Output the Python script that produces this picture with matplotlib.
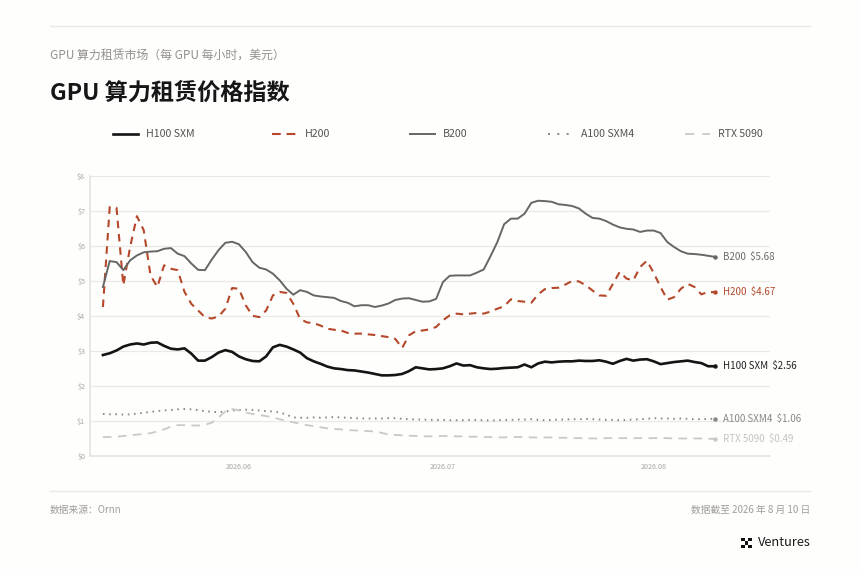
import matplotlib
matplotlib.use("Agg")
import matplotlib.pyplot as plt
import matplotlib.dates as mdates
import pandas as pd
from matplotlib.lines import Line2D
from matplotlib.patches import Rectangle

plt.rcParams['font.family'] = ['Noto Sans CJK SC', 'DejaVu Sans']

W, H = 860, 573
BG = '#fefefd'
GRID = '#ece9e5'

dates = pd.date_range('2026-05-12', '2026-08-10', freq='D')

h100 = [2.88, 2.93, 3.01, 3.12, 3.18, 3.21, 3.18, 3.23, 3.24, 3.14,
        3.06, 3.04, 3.07, 2.92, 2.72, 2.72, 2.82, 2.95, 3.02, 2.97,
        2.84, 2.76, 2.71, 2.70, 2.84, 3.10, 3.17, 3.12, 3.04, 2.95,
        2.79, 2.70, 2.63, 2.55, 2.50, 2.48, 2.45, 2.44, 2.41, 2.38,
        2.34, 2.30, 2.30, 2.31, 2.34, 2.42, 2.53, 2.50, 2.47, 2.48,
        2.50, 2.56, 2.64, 2.58, 2.59, 2.53, 2.50, 2.48, 2.49, 2.51,
        2.52, 2.53, 2.61, 2.53, 2.64, 2.69, 2.67, 2.69, 2.70, 2.70,
        2.72, 2.71, 2.71, 2.73, 2.69, 2.63, 2.71, 2.77, 2.72, 2.75,
        2.76, 2.70, 2.62, 2.65, 2.68, 2.70, 2.72, 2.68, 2.65, 2.56, 2.56]
h200 = [4.25, 7.10, 7.08, 4.87, 5.96, 6.84, 6.44, 5.15, 4.82, 5.44,
        5.34, 5.30, 4.68, 4.34, 4.15, 3.96, 3.92, 3.98, 4.20, 4.79,
        4.77, 4.30, 4.00, 3.96, 4.15, 4.58, 4.68, 4.65, 4.34, 3.91,
        3.81, 3.79, 3.72, 3.63, 3.60, 3.58, 3.51, 3.49, 3.49, 3.47,
        3.45, 3.42, 3.39, 3.34, 3.08, 3.44, 3.56, 3.58, 3.61, 3.68,
        3.87, 4.01, 4.06, 4.04, 4.06, 4.08, 4.06, 4.12, 4.20, 4.27,
        4.47, 4.42, 4.40, 4.37, 4.61, 4.76, 4.79, 4.80, 4.89, 4.99,
        4.98, 4.87, 4.72, 4.58, 4.57, 4.91, 5.25, 5.06, 5.01, 5.39,
        5.57, 5.22, 4.82, 4.46, 4.53, 4.77, 4.91, 4.82, 4.61, 4.68, 4.67]
b200 = [4.82, 5.56, 5.53, 5.30, 5.58, 5.72, 5.81, 5.83, 5.84, 5.91,
        5.93, 5.77, 5.70, 5.49, 5.31, 5.30, 5.60, 5.87, 6.08, 6.11,
        6.04, 5.82, 5.53, 5.37, 5.32, 5.20, 5.01, 4.77, 4.60, 4.73,
        4.68, 4.58, 4.55, 4.53, 4.51, 4.42, 4.37, 4.27, 4.30, 4.30,
        4.25, 4.29, 4.35, 4.45, 4.49, 4.50, 4.45, 4.40, 4.41, 4.48,
        4.96, 5.14, 5.15, 5.15, 5.15, 5.23, 5.32, 5.70, 6.10, 6.61,
        6.77, 6.77, 6.91, 7.22, 7.28, 7.27, 7.25, 7.18, 7.16, 7.13,
        7.06, 6.91, 6.79, 6.77, 6.70, 6.60, 6.52, 6.48, 6.46, 6.39,
        6.43, 6.43, 6.36, 6.10, 5.96, 5.84, 5.77, 5.76, 5.74, 5.71, 5.68]
a100 = [1.20, 1.19, 1.19, 1.18, 1.19, 1.21, 1.23, 1.26, 1.28, 1.30,
        1.31, 1.33, 1.34, 1.33, 1.31, 1.28, 1.26, 1.25, 1.27, 1.30,
        1.31, 1.32, 1.31, 1.30, 1.28, 1.27, 1.24, 1.18, 1.10, 1.09,
        1.09, 1.10, 1.09, 1.10, 1.11, 1.10, 1.09, 1.08, 1.07, 1.07,
        1.07, 1.07, 1.08, 1.08, 1.06, 1.05, 1.04, 1.04, 1.03, 1.03,
        1.03, 1.02, 1.02, 1.02, 1.03, 1.03, 1.02, 1.01, 1.02, 1.03,
        1.03, 1.04, 1.04, 1.05, 1.03, 1.02, 1.03, 1.04, 1.04, 1.05,
        1.05, 1.06, 1.05, 1.04, 1.03, 1.03, 1.02, 1.03, 1.04, 1.05,
        1.06, 1.08, 1.07, 1.07, 1.06, 1.07, 1.06, 1.05, 1.05, 1.06, 1.06]
rtx = [0.54, 0.54, 0.55, 0.57, 0.59, 0.61, 0.63, 0.65, 0.70, 0.76,
       0.84, 0.88, 0.88, 0.87, 0.87, 0.89, 0.95, 1.10, 1.27, 1.34,
       1.30, 1.24, 1.20, 1.17, 1.14, 1.10, 1.05, 1.00, 0.96, 0.92,
       0.88, 0.85, 0.82, 0.79, 0.77, 0.76, 0.74, 0.73, 0.72, 0.71,
       0.70, 0.66, 0.61, 0.60, 0.59, 0.58, 0.57, 0.56, 0.56, 0.56,
       0.57, 0.57, 0.56, 0.56, 0.55, 0.55, 0.54, 0.54, 0.53, 0.53,
       0.54, 0.54, 0.54, 0.53, 0.53, 0.53, 0.53, 0.52, 0.52, 0.51,
       0.51, 0.51, 0.50, 0.50, 0.51, 0.51, 0.51, 0.51, 0.51, 0.51,
       0.51, 0.51, 0.51, 0.51, 0.50, 0.50, 0.50, 0.50, 0.50, 0.49, 0.49]

names = ['H100 SXM', 'H200', 'B200', 'A100 SXM4', 'RTX 5090']
values = [h100, h200, b200, a100, rtx]
ends = ['$2.56', '$4.67', '$5.68', '$1.06', '$0.49']
colors = ['#141414', '#b5482a', '#666664', '#8a8885', '#cbc9c5']
label_colors = ['#222222', '#b5482a', '#6b6b69', '#8a8885', '#c6c4c0']
widths = [1.9, 1.5, 1.4, 1.4, 1.3]
styles = ['-', (0, (3.6, 2.8)), '-', (0, (0.8, 2.4)), (0, (4.8, 3.5))]
legend_styles = ['-', (0, (4.2, 2.8)), '-', (0, (1, 3.8)), (0, (5.2, 4.4))]
legend_x = [113, 272, 410, 548, 685]


def fx(px):
    return px / W


def fy(py):
    return 1 - py / H


def put(px, py, s, **kw):
    fig.text(fx(px), fy(py), s, va='center', **kw)


fig = plt.figure(figsize=(W / 100, H / 100), dpi=100, facecolor=BG)
ax = fig.add_axes([fx(90), fy(456), fx(680), (456 - 175.5) / H], facecolor='none')

for name, vals, end, c, lc, lw, ls in zip(names, values, ends, colors, label_colors, widths, styles):
    ax.plot(dates, vals, color=c, lw=lw, ls=ls, solid_joinstyle='round', zorder=3, clip_on=False)
    ax.plot(dates[-1], vals[-1], 'o', color=c, ms=3.2, mew=0, zorder=4, clip_on=False)
    ax.annotate(f'{name}  {end}', (dates[-1], vals[-1]), xytext=(5.8, 0), textcoords='offset points',
                va='center', ha='left', fontsize=7, color=lc)

ax.set_ylim(0, 8)
ax.set_xlim(dates[0] - pd.Timedelta(days=1.9), dates[0] + pd.Timedelta(days=98.1))
ax.set_yticks(range(9))
ax.set_yticklabels([f'${v}' for v in range(9)])
ax.set_xticks(pd.to_datetime(['2026-06-01', '2026-07-01', '2026-08-01']))
ax.xaxis.set_major_formatter(mdates.DateFormatter('%Y.%m'))
ax.tick_params(length=0, labelsize=5.2, labelcolor='#a9a7a3')
ax.tick_params(axis='x', pad=5)
ax.tick_params(axis='y', pad=3.5)
ax.grid(axis='y', color=GRID, lw=0.9)
ax.set_axisbelow(True)
for side in ['top', 'right']:
    ax.spines[side].set_visible(False)
for side in ['left', 'bottom']:
    ax.spines[side].set_color('#e4e1dd')
    ax.spines[side].set_linewidth(1.1)

# rules above and below
fig.add_artist(Line2D([fx(50), fx(810)], [fy(25.5), fy(25.5)], color=GRID, lw=1))
fig.add_artist(Line2D([fx(50), fx(810)], [fy(491), fy(491)], color=GRID, lw=1))

put(50, 55.5, 'GPU 算力租赁市场（每 GPU 每小时，美元）', fontsize=8.6, color='#94918d')
put(50, 93, 'GPU 算力租赁价格指数', fontsize=16.7, fontweight='bold', color='#161616')

# legend row
for x0, name, c, lw, ls in zip(legend_x, names, colors, widths, legend_styles):
    fig.add_artist(Line2D([fx(x0), fx(x0 + 25)], [fy(134), fy(134)], color=c, lw=lw, ls=ls))
    put(x0 + 33, 134, name, fontsize=7.6, color='#55534f')

put(50, 510, '数据来源：Ornn', fontsize=7, color='#a09d99')
fig.text(fx(810), fy(510), '数据截至 2026 年 8 月 10 日', va='center', ha='right', fontsize=7, color='#a09d99')

# logo
for cx, cy in [(0, 0), (2, 0), (1, 1), (0, 2), (2, 2)]:
    fig.add_artist(Rectangle((fx(741 + cx * 3.7), fy(537.5 + (cy + 1) * 3.5)), 3.7 / W, 3.5 / H,
                             transform=fig.transFigure, color='#111111', lw=0))
fig.text(fx(811), fy(543), 'Ventures', va='center', ha='right', fontsize=9.3, color='#1a1a1a')

fig.savefig('out.png', dpi=100, facecolor=BG)
